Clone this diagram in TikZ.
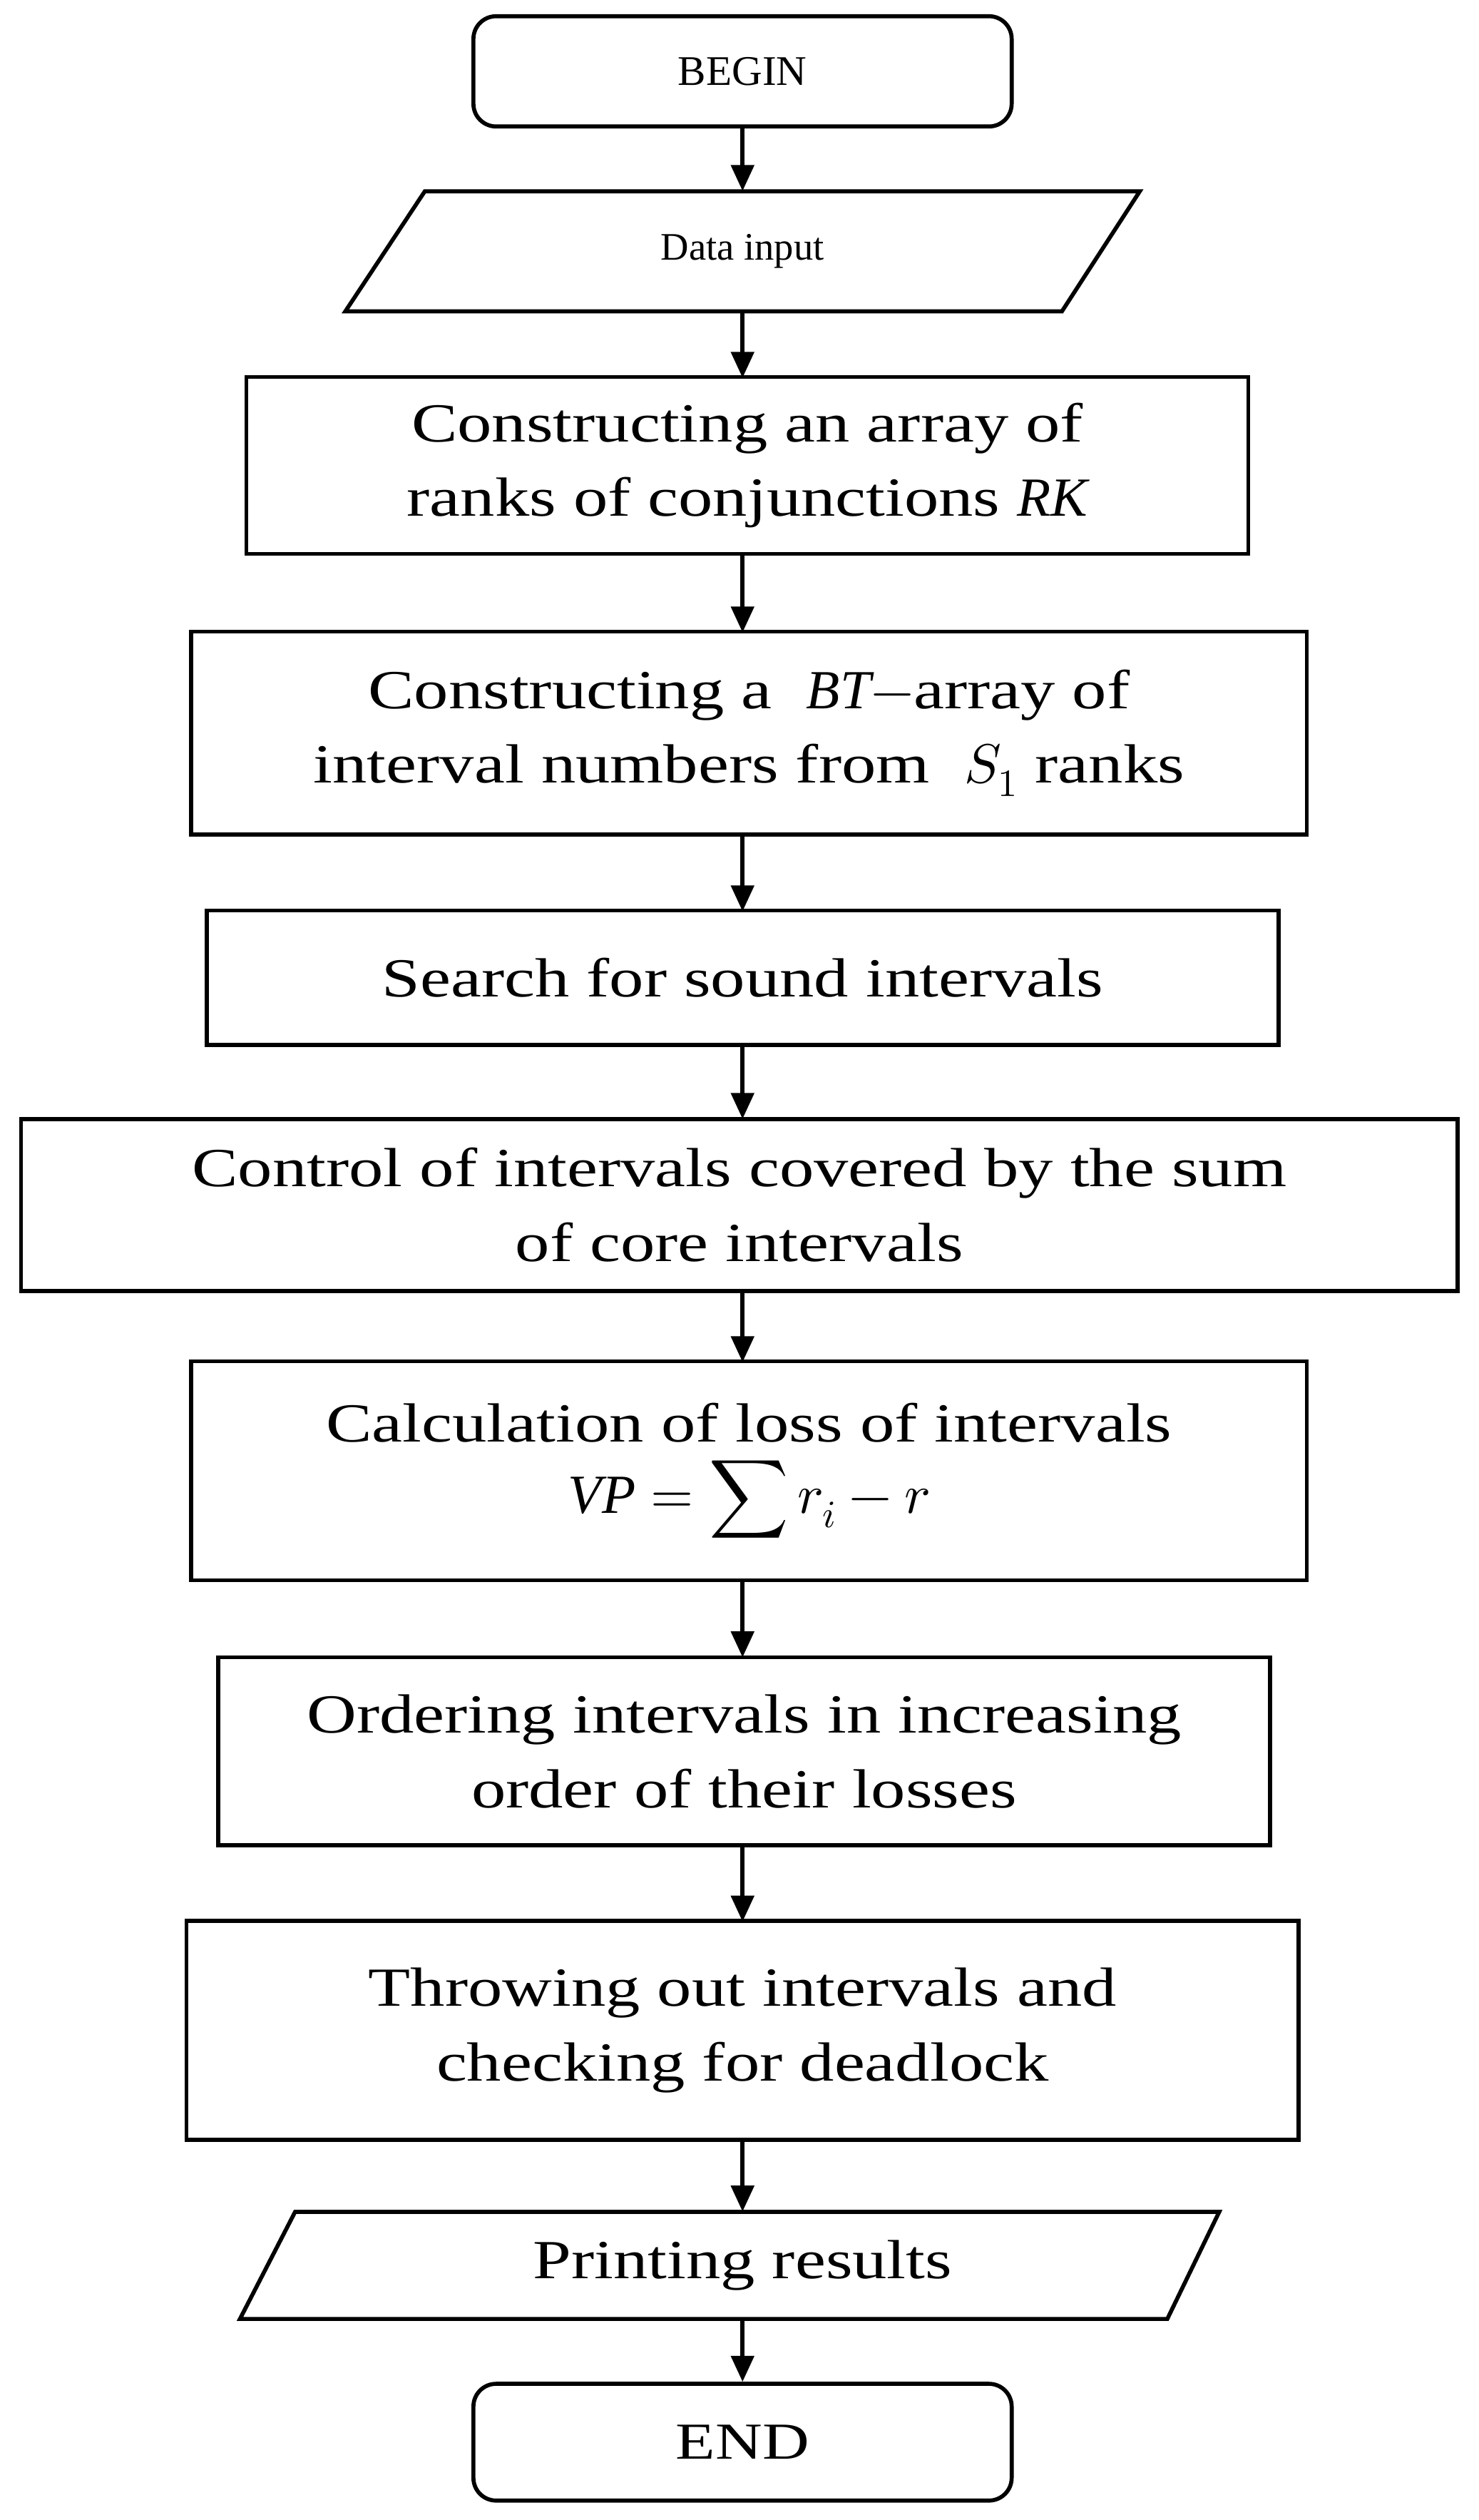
\documentclass[tikz,border=0pt]{standalone}
\usepackage{fontspec}
\usepackage{unicode-math}
\setmainfont{Liberation Serif}
\setmathfont{Latin Modern Math}
\newfontfamily\wide[FakeStretch=1.25]{Liberation Serif}
\usetikzlibrary{arrows.meta}
\begin{document}
\begin{tikzpicture}[x=1pt,y=-1pt,
  box/.style={draw,line width=2.5pt,align=center,font=\wide\fontsize{34}{46}\selectfont,inner sep=0pt},
  ghost/.style={inner sep=0pt,align=center},
  arr/.style={line width=2.5pt,-{Triangle[length=16pt,width=14pt]}}]
\useasboundingbox (0,0) rectangle (912,1554);
\node[box,rounded corners=14pt,minimum width=332pt,minimum height=68pt,font=\fontsize{26}{30}\selectfont] (b) at (458,44) {BEGIN};
\node[ghost,minimum width=440pt,minimum height=74pt,font=\fontsize{24}{28}\selectfont] (d) at (458,155) {Data input};
\draw[line width=2.5pt] (262,118)--(703,118)--(655,192)--(213,192)--cycle;
\node[box,minimum width=618pt,minimum height=109pt] (c1) at (461,287) {Constructing an array of\\ranks of conjunctions $\mathit{RK}$};
\node[box,minimum width=688pt,minimum height=125pt] (c2) at (462,452) {Constructing a \ $\mathit{BT}-$array of\\interval numbers from \ $S_1$ ranks};
\node[box,minimum width=661pt,minimum height=83pt] (c3) at (458,603) {Search for sound intervals};
\node[box,minimum width=886pt,minimum height=106pt] (c4) at (456,743) {Control of intervals covered by the sum\\of core intervals};
\node[box,minimum width=688pt,minimum height=135pt] (c5) at (462,907) {Calculation of loss of intervals\\[-2pt]$\displaystyle \mathit{VP}=\sum r_i-r$};
\node[box,minimum width=649pt,minimum height=116pt] (c6) at (459,1080) {Ordering intervals in increasing\\order of their losses};
\node[box,minimum width=686pt,minimum height=135pt] (c7) at (458,1252) {Throwing out intervals and\\checking for deadlock};
\node[ghost,minimum width=570pt,minimum height=66pt,font=\wide\fontsize{34}{40}\selectfont] (p) at (458,1397) {Printing results};
\draw[line width=2.5pt] (182,1364)--(752,1364)--(720,1430)--(148,1430)--cycle;
\node[box,rounded corners=14pt,minimum width=332pt,minimum height=72pt,font=\wide\fontsize{32}{36}\selectfont] (e) at (458,1506) {END};
\draw[arr] (b.south) -- (d.north);
\draw[arr] (d.south) -- (458,233);
\draw[arr] (458,342) -- (458,390);
\draw[arr] (458,515) -- (458,562);
\draw[arr] (458,645) -- (458,690);
\draw[arr] (458,796) -- (458,840);
\draw[arr] (458,975) -- (458,1022);
\draw[arr] (458,1138) -- (458,1185);
\draw[arr] (458,1320) -- (p.north);
\draw[arr] (p.south) -- (e.north);
\end{tikzpicture}
\end{document}
